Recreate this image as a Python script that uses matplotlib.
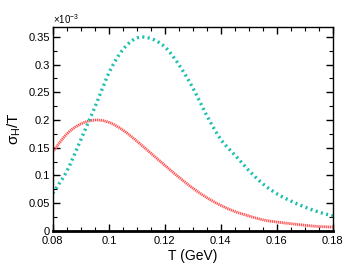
import numpy as np
import matplotlib
matplotlib.use('Agg')
import matplotlib.pyplot as plt
from matplotlib.ticker import MultipleLocator, FormatStrFormatter

plt.rcParams['font.family'] = ['Liberation Sans', 'DejaVu Sans']
plt.rcParams['mathtext.fontset'] = 'custom'
plt.rcParams['mathtext.rm'] = 'Liberation Sans'
plt.rcParams['mathtext.it'] = 'Liberation Sans'
plt.rcParams['lines.scale_dashes'] = False

# temperature grid (GeV)
T = [0.080, 0.085, 0.090, 0.095, 0.100, 0.105, 0.110, 0.115, 0.120, 0.125, 0.130,
     0.135, 0.140, 0.145, 0.150, 0.155, 0.160, 0.165, 0.170, 0.175, 0.180]

# sigma_H / T in units of 1e-3
teal_vals = [0.068, 0.108, 0.165, 0.223, 0.285, 0.327, 0.348, 0.347, 0.332, 0.300, 0.258,
             0.208, 0.165, 0.137, 0.109, 0.085, 0.067, 0.054, 0.043, 0.034, 0.027]
red_vals = [0.143, 0.175, 0.193, 0.200, 0.196, 0.182, 0.162, 0.140, 0.118, 0.097, 0.077,
            0.060, 0.046, 0.035, 0.027, 0.020, 0.016, 0.013, 0.010, 0.008, 0.007]

x_ticks = [0.08, 0.1, 0.12, 0.14, 0.16, 0.18]
y_ticks = [0, 0.05, 0.1, 0.15, 0.2, 0.25, 0.3, 0.35]


def smooth(x, y, n=300):
    # Catmull-Rom through the read-off points, just for a smooth line
    x = np.asarray(x); y = np.asarray(y)
    xs = np.linspace(x[0], x[-1], n)
    out = []
    for xx in xs:
        i = min(max(np.searchsorted(x, xx) - 1, 0), len(x) - 2)
        t = (xx - x[i]) / (x[i + 1] - x[i])
        p0 = y[i - 1] if i > 0 else 2 * y[i] - y[i + 1]
        p1, p2 = y[i], y[i + 1]
        p3 = y[i + 2] if i + 2 < len(y) else 2 * y[i + 1] - y[i]
        out.append(0.5 * ((2 * p1) + (-p0 + p2) * t + (2 * p0 - 5 * p1 + 4 * p2 - p3) * t ** 2
                          + (-p0 + 3 * p1 - 3 * p2 + p3) * t ** 3))
    return xs, np.array(out)


fig = plt.figure(figsize=(3.5, 2.72), dpi=100)
ax = fig.add_axes([0.151, 0.151, 0.800, 0.750])

xs, ys = smooth(T, red_vals)
ax.plot(xs, ys, color='#ff5252', lw=2.0, linestyle=(0, (0.9, 0.5)))
xs, ys = smooth(T, teal_vals)
ax.plot(xs, ys, color='#1fbfb0', lw=2.4, linestyle=(0, (1.5, 2.4)))

ax.set_xlim(0.08, 0.18)
ax.set_ylim(0, 0.368)
ax.set_xticks(x_ticks)
ax.set_yticks(y_ticks)
ax.xaxis.set_minor_locator(MultipleLocator(0.005))
ax.yaxis.set_minor_locator(MultipleLocator(0.025))
ax.xaxis.set_major_formatter(FormatStrFormatter('%g'))
ax.yaxis.set_major_formatter(FormatStrFormatter('%g'))
ax.tick_params(which='both', direction='in', top=True, right=True, labelsize=8)
ax.tick_params(axis='x', pad=3.5)
ax.tick_params(axis='y', pad=2)
ax.tick_params(which='major', length=5, width=1)
ax.tick_params(which='minor', length=3, width=0.8)
for s in ax.spines.values():
    s.set_linewidth(1)
ax.spines['bottom'].set_linewidth(2)

ax.set_xlabel('T (GeV)', fontsize=10, labelpad=2)
ax.set_ylabel(r'$\sigma_H$/T', fontsize=11, labelpad=4)
ax.text(0.0, 1.005, r'$\times$10$^{-3}$', transform=ax.transAxes, fontsize=7,
        ha='left', va='bottom')

fig.savefig('out.png', dpi=100)
